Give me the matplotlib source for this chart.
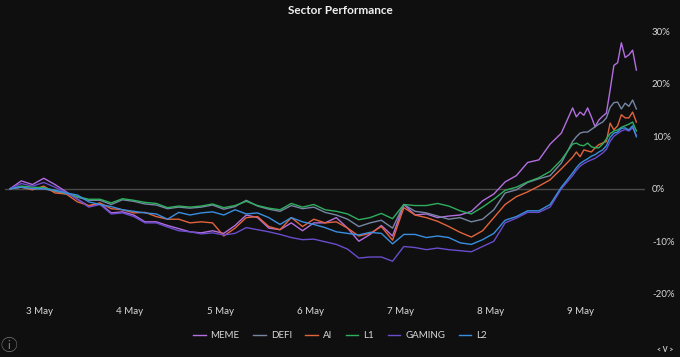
import matplotlib
matplotlib.use("Agg")
import matplotlib.pyplot as plt
import numpy as np

# hours since 2 May 16:00
hours = list(range(0, 151, 3)) + list(range(151, 168))

meme = [0.0, 1.5, 0.8, 2.0, 0.8, -0.6, -2.0, -3.3, -2.8, -4.6, -4.4, -5.0, -6.3, -6.3, -7.0, -7.6, -8.2,
        -8.4, -8.0, -8.5, -7.0, -5.0, -5.5, -7.5, -7.8, -6.5, -8.0, -6.5, -6.5, -5.5, -7.5, -10.0, -8.7,
        -7.0, -9.0, -3.0, -5.0, -4.8, -5.5, -5.2, -5.0, -4.3, -2.3, -1.0, 1.3, 2.5, 5.0, 5.5, 8.5, 10.6, 15.4,
        13.7, 14.6, 14.0, 15.4, 13.7, 11.8, 13.1, 13.8, 14.4, 18.8, 23.5, 24.0, 27.8, 25.0, 25.5, 26.4, 22.6]
defi = [0.0, 0.3, 0.0, 0.0, -0.5, -1.0, -1.6, -2.2, -2.2, -3.0, -2.1, -2.4, -2.9, -3.1, -3.8, -3.5, -3.7,
        -3.5, -3.1, -3.9, -3.4, -2.2, -3.3, -3.9, -4.3, -3.2, -3.8, -3.5, -4.5, -5.0, -5.8, -7.2, -6.5,
        -6.0, -7.5, -3.0, -4.3, -4.6, -5.2, -5.8, -5.5, -6.3, -5.8, -4.0, -0.8, -0.2, 1.2, 1.9, 2.5, 4.9, 9.0,
        9.9, 10.6, 10.8, 10.8, 11.3, 11.8, 12.3, 12.7, 13.5, 15.5, 16.4, 16.5, 15.2, 16.3, 15.7, 16.9, 15.2]
ai = [0.0, 0.3, -0.2, 0.5, -0.8, -1.0, -2.5, -3.2, -2.7, -3.8, -4.0, -4.6, -4.5, -5.3, -5.8, -5.8, -6.5,
      -6.3, -6.5, -9.0, -7.5, -5.5, -5.3, -7.2, -7.8, -5.5, -7.2, -5.8, -6.5, -6.3, -7.5, -9.0, -8.5,
      -7.2, -9.8, -3.6, -5.0, -5.5, -6.2, -7.2, -8.3, -9.2, -8.0, -5.5, -3.0, -1.5, -0.6, 0.5, 1.7, 3.8, 6.0,
      7.0, 6.1, 7.4, 7.2, 7.0, 7.8, 8.4, 8.7, 9.0, 12.5, 11.2, 12.0, 14.1, 13.5, 13.5, 14.6, 12.7]
l1 = [0.0, 0.5, 0.3, 0.2, -0.3, -0.9, -1.5, -2.0, -2.0, -2.7, -1.9, -2.2, -2.6, -2.8, -3.6, -3.3, -3.5,
      -3.3, -2.9, -3.6, -3.2, -2.4, -3.2, -3.7, -4.0, -2.8, -3.5, -3.0, -4.0, -4.3, -4.8, -5.9, -5.5,
      -4.7, -5.7, -3.0, -3.2, -3.2, -2.8, -3.3, -4.2, -4.8, -3.5, -2.0, -0.3, 0.3, 1.3, 2.1, 3.3, 5.5, 8.5,
      8.7, 8.3, 8.2, 8.7, 8.0, 7.8, 7.8, 8.5, 9.5, 10.5, 11.0, 11.2, 11.7, 12.0, 12.3, 12.7, 11.0]
gaming = [0.0, 1.0, 0.5, 1.2, 0.3, -0.8, -2.0, -3.5, -3.0, -4.8, -4.6, -5.3, -6.5, -6.5, -7.3, -8.0, -8.2,
          -8.6, -8.4, -8.8, -8.5, -7.4, -7.8, -8.2, -8.7, -9.3, -9.7, -9.6, -10.1, -10.6, -11.5, -13.2, -13.0,
          -13.0, -13.8, -11.0, -11.2, -11.6, -11.3, -11.6, -11.8, -12.0, -11.0, -10.0, -6.5, -5.6, -4.5, -4.5,
          -3.5, 0.0, 2.5,
          3.5, 4.3, 4.8, 5.2, 5.5, 5.8, 6.3, 6.8, 7.5, 9.0, 10.0, 10.5, 11.0, 11.3, 11.0, 11.6, 10.2]
l2 = [0.0, 0.3, 0.0, 0.0, -0.3, -0.8, -1.2, -2.5, -3.0, -3.4, -4.0, -4.3, -4.6, -4.8, -5.8, -4.5, -5.0,
      -4.6, -4.4, -5.0, -4.0, -4.8, -4.6, -5.5, -6.8, -5.5, -6.3, -6.8, -7.4, -8.2, -8.5, -8.8, -8.3,
      -8.5, -10.5, -8.7, -8.7, -9.3, -9.0, -9.3, -10.3, -10.6, -9.7, -8.5, -6.0, -5.3, -4.2, -4.2, -3.0, 0.3,
      3.0,
      4.0, 4.8, 5.3, 5.7, 6.2, 6.5, 7.0, 7.4, 8.2, 9.8, 10.6, 10.8, 11.5, 11.6, 11.2, 12.0, 9.9]

series_names = ["MEME", "DEFI", "AI", "L1", "GAMING", "L2"]
series_vals = [meme, defi, ai, l1, gaming, l2]
colors = ["#b36ee0", "#7686a3", "#e2643c", "#2fae5e", "#6a4ccc", "#3a8ee0"]

tick_hours = [8, 32, 56, 80, 104, 128, 152]
tick_labels = ["3 May", "4 May", "5 May", "6 May", "7 May", "8 May", "9 May"]
y_ticks = [-20, -10, 0, 10, 20, 30]

bg = "#0f0f0f"
plt.rcParams['font.family'] = ['Lato', 'DejaVu Sans']

fig = plt.figure(figsize=(6.8, 3.57), dpi=100, facecolor=bg)
ax = fig.add_axes([5/680, 58/357, 640/680, 273/357], facecolor=bg)

ax.axhline(0, color="#4a4a4a", lw=1.0, zorder=1)
for name, vals, c in zip(series_names, series_vals, colors):
    ax.plot(hours, vals, color=c, lw=1.0, label=name, zorder=2)

ax.set_xlim(-1.33, 169.3)
ax.set_ylim(-21, 31)
for s in ax.spines.values():
    s.set_visible(False)
ax.set_xticks(tick_hours)
ax.set_xticklabels(tick_labels)
ax.set_yticks(y_ticks)
ax.set_yticklabels([f"{v}%" for v in y_ticks])
ax.yaxis.tick_right()
ax.tick_params(axis="both", length=0, colors="#d8d8d8", labelsize=7)
ax.tick_params(axis="x", pad=6)
ax.tick_params(axis="y", pad=5)

fig.text(0.5, 1 - 10/357, "Sector Performance", ha="center", va="center",
         color="#f0f0f0", fontsize=8.5, fontweight="bold")

leg = fig.legend(loc="center", bbox_to_anchor=(0.5, 1 - 336/357), ncol=6, frameon=False,
                 fontsize=7, handlelength=1.3, handletextpad=0.5, columnspacing=1.4)
for t in leg.get_texts():
    t.set_color("#d8d8d8")

fig.text(9/680, 1 - 347/357, "ⓘ", ha="center", va="center", color="#777777", fontsize=12,
         family=['Noto Sans CJK JP', 'DejaVu Sans'])
fig.text(665/680, 1 - 350/357, "< V >", ha="center", va="center", color="#cccccc", fontsize=5,
         fontweight="bold")

fig.savefig("out.png", dpi=100, facecolor=bg)
